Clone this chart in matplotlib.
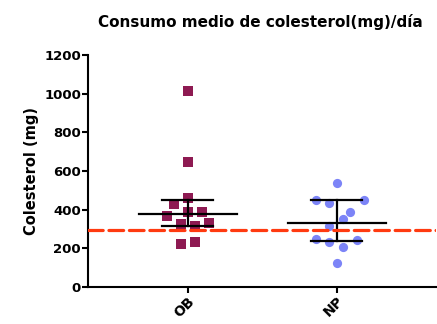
import numpy as np
import matplotlib
matplotlib.use('Agg')
import matplotlib.pyplot as plt

plt.rcParams['font.family'] = ['DejaVu Sans']

# Data
groups = ['OB', 'NP']
ob_values = [1014, 646, 459, 430, 365, 386, 386, 326, 315, 329, 222, 235]
ob_jitter = [0, 0, 0, -0.094, -0.141, 0, 0.094, -0.047, 0.049, 0.141, -0.047, 0.049]
np_values = [539, 452, 452, 435, 386, 353, 313, 248, 235, 244, 206, 126]
np_jitter = [0, -0.141, 0.185, -0.05, 0.091, 0.044, -0.05, -0.141, -0.05, 0.138, 0.044, 0]
reference_level = 295

fig = plt.figure(figsize=(4.37, 3.24), dpi=100)
ax = fig.add_axes([88/437, 37/324, 348/437, 232/324])

ax.scatter(np.array(ob_jitter) + 0, ob_values, marker='s', s=52, color='#8E1A52',
           linewidths=0, zorder=3)
ax.scatter(np.array(np_jitter) + 1, np_values, marker='o', s=44, color='#7C84F7',
           linewidths=0, zorder=3)

# median with interquartile range (GraphPad style)
for i, vals in enumerate([ob_values, np_values]):
    q1, med, q3 = np.percentile(vals, [25, 50, 75], method='weibull')
    ax.plot([i - 0.33, i + 0.33], [med, med], color='black', lw=1.6, zorder=4)
    ax.plot([i, i], [q1, q3], color='black', lw=1.6, zorder=4)
    ax.plot([i - 0.17, i + 0.17], [q1, q1], color='black', lw=1.6, zorder=4)
    ax.plot([i - 0.17, i + 0.17], [q3, q3], color='black', lw=1.6, zorder=4)

ax.axhline(reference_level, color='#FF3A10', lw=2.3, dashes=(4.6, 1.8),
           dash_capstyle='round', zorder=5)

ax.set_xlim(-0.669, 1.666)
ax.set_ylim(0, 1200)
ax.set_yticks(range(0, 1201, 200))
ax.set_xticks([0, 1])
ax.set_xticklabels(groups, rotation=45, ha='right', va='top', rotation_mode='anchor',
                   fontweight='bold', fontsize=10)
for lbl in ax.get_yticklabels():
    lbl.set_fontweight('bold')
    lbl.set_fontsize(9.5)
ax.tick_params(axis='both', width=1.5, length=4, direction='out', pad=1)
for s in ['top', 'right']:
    ax.spines[s].set_visible(False)
for s in ['left', 'bottom']:
    ax.spines[s].set_linewidth(1.5)

ax.set_ylabel('Colesterol (mg)', fontweight='bold', fontsize=10.5, labelpad=4)
fig.text(260/437, 1 - 22/324, 'Consumo medio de colesterol(mg)/día', ha='center',
         va='center', fontweight='bold', fontsize=11)

plt.savefig('out.png', dpi=100)
